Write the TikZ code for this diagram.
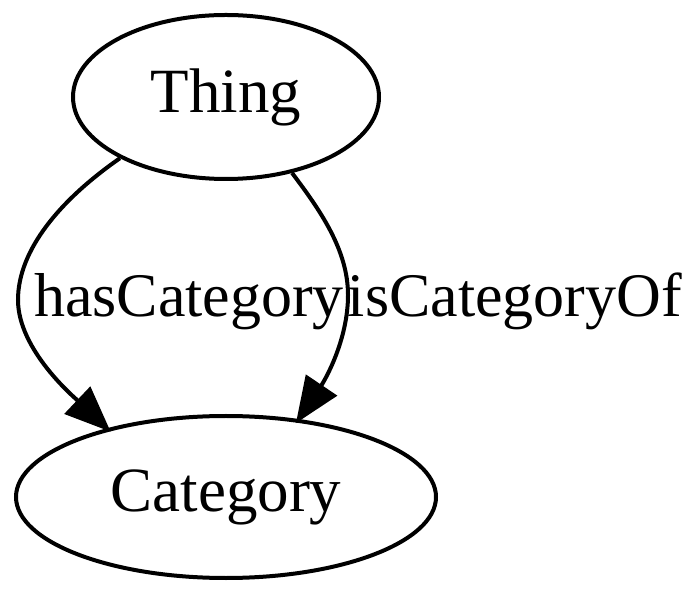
\documentclass[tikz,border=0pt]{standalone}
\usepackage{fontspec}
\setmainfont{Liberation Serif}
\usetikzlibrary{shapes.geometric,arrows.meta}
\begin{document}
\begin{tikzpicture}[x=0.5pt,y=-0.5pt,
  vnode/.style={ellipse,draw,line width=2pt,inner sep=0pt,font=\fontsize{31.5}{38}\selectfont},
  edgelab/.style={font=\fontsize{31}{38}\selectfont,inner sep=0pt,anchor=base},
  conn/.style={line width=2pt,shorten >=-2.5pt,-{Triangle[length=23pt,width=18.5pt]}}]
\useasboundingbox (0,0) rectangle (700,597);
\node[vnode,minimum width=153pt,minimum height=82pt] (Thing) at (226,97) {Thing};
\node[vnode,minimum width=210pt,minimum height=81pt] (Category) at (226,497) {Category};
\draw[conn] (Thing.210) .. controls (60,200) and (18,250) .. (18,300)
  .. controls (18,350) and (75,398) .. (Category.150);
\draw[conn] (Thing.311) .. controls (320,210) and (348,250) .. (348,295)
  .. controls (348,340) and (325,380) .. (Category.47);
\node[edgelab] (l1) at (189,317) {hasCategory};
\node[edgelab] (l2) at (515,317) {isCategoryOf};
\end{tikzpicture}
\end{document}
